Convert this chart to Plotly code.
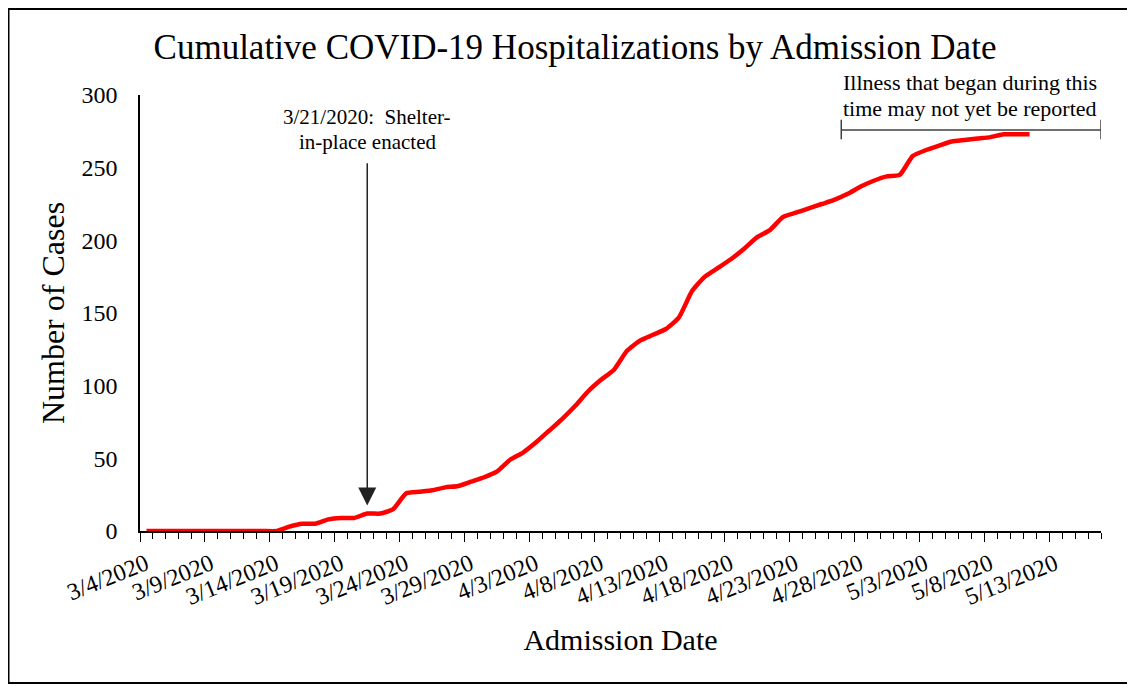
import pandas as pd
import plotly.graph_objects as go

# ---- data ----
start_date = "2020-03-04"
cases = [0, 0, 0, 0, 0, 0, 0, 0, 0, 0,
         0, 3, 5, 5, 8, 9, 9, 12, 12, 15,
         26, 27, 28, 30, 31, 34, 37, 41, 49, 54,
         61, 69, 77, 86, 96, 104, 111, 124, 131, 135,
         139, 147, 165, 175, 181, 187, 194, 202, 207, 216,
         219, 222, 225, 228, 232, 237, 241, 244, 245, 258,
         262, 265, 268, 269, 270, 271, 273, 273, 273]
tick_labels = ["3/4/2020", "3/9/2020", "3/14/2020", "3/19/2020", "3/24/2020",
               "3/29/2020", "4/3/2020", "4/8/2020", "4/13/2020", "4/18/2020",
               "4/23/2020", "4/28/2020", "5/3/2020", "5/8/2020", "5/13/2020"]
y_ticks = [0, 50, 100, 150, 200, 250, 300]
shelter_date = "2020-03-21"
lag_start = "2020-04-26 12:00"
axis_end = "2020-05-16 12:00"
axis_start = "2020-03-03 12:00"

dates = pd.date_range(start_date, periods=len(cases), freq="D")
tick_pos = [pd.Timestamp(axis_start) + pd.Timedelta(days=5 * k) for k in range(len(tick_labels))]

FONT = "Liberation Serif"
OFF = 8  # page body margin
W, H = 1135 - OFF, 685 - OFF
L, R, T, B = 140 - OFF, 34, 95 - OFF, 154
pw, ph = W - L - R, H - T - B


def px_x(page_x):
    return (page_x - OFF - L) / pw


def px_y(page_y):
    return (H - B - (page_y - OFF)) / ph


fig = go.Figure()
fig.add_trace(go.Scatter(
    x=dates, y=cases, mode="lines",
    line=dict(color="#FF0000", width=4.5, shape="spline", smoothing=0.5),
    showlegend=False, hoverinfo="x+y"))

fig.update_layout(
    width=W, height=H, autosize=False,
    margin=dict(l=L, r=R, t=T, b=B),
    paper_bgcolor="white", plot_bgcolor="white",
    font=dict(family=FONT, color="black"),
    title=dict(text="Cumulative COVID-19 Hospitalizations by Admission Date",
               font=dict(family=FONT, size=35, color="black"),
               x=(575 - OFF) / W, xref="container", xanchor="center",
               y=1 - (47 - OFF) / H, yref="container", yanchor="middle"),
    xaxis=dict(
        type="date", range=[axis_start, axis_end],
        tickmode="array", tickvals=tick_pos, ticktext=tick_labels,
        tickangle=-22, ticklabelshift=6, ticklabelstandoff=-1,
        ticks="outside", ticklen=9, tickwidth=1.3, tickcolor="black",
        minor=dict(tick0=axis_start, dtick=86400000, ticks="outside",
                   ticklen=6, tickwidth=1.3, tickcolor="black"),
        showline=True, linecolor="black", linewidth=1.5,
        showgrid=False, zeroline=False,
        tickfont=dict(family=FONT, size=24, color="black"),
        title=dict(text="Admission Date", font=dict(family=FONT, size=30, color="black"),
                   standoff=20),
    ),
    yaxis=dict(
        range=[0, 300], tickmode="array", tickvals=y_ticks,
        ticks="", ticklabelstandoff=16,
        showline=True, linecolor="black", linewidth=1.5,
        showgrid=False, zeroline=False,
        tickfont=dict(family=FONT, size=24, color="black"),
        title=dict(text="Number of Cases", font=dict(family=FONT, size=32, color="black"),
                   standoff=7),
    ),
)

# shelter-in-place arrow
fig.add_annotation(x=shelter_date, y=17.5, ax=shelter_date, ay=254,
                   xref="x", yref="y", axref="x", ayref="y", text="",
                   showarrow=True, arrowhead=2, arrowsize=2.4, arrowwidth=1.5,
                   arrowcolor="#222222")
for txt, py in (("3/21/2020:  Shelter-", 117), ("in-place enacted", 142)):
    fig.add_annotation(x=shelter_date, y=px_y(py), xref="x", yref="paper",
                       text=txt, showarrow=False,
                       font=dict(family=FONT, size=21, color="black"),
                       xanchor="center", yanchor="middle")

# reporting-lag bracket
fig.add_shape(type="line", x0=lag_start, x1=axis_end, y0=276, y1=276,
              xref="x", yref="y", line=dict(color="#404040", width=1.5))
for xv in (lag_start, axis_end):
    fig.add_shape(type="line", x0=xv, x1=xv, y0=269.5, y1=283,
                  xref="x", yref="y", line=dict(color="#404040", width=1.5))
for txt, py in (("Illness that began during this", 83), ("time may not yet be reported", 108)):
    fig.add_annotation(x=px_x(970), y=px_y(py), xref="paper", yref="paper",
                       text=txt, showarrow=False,
                       font=dict(family=FONT, size=22, color="black"),
                       xanchor="center", yanchor="middle")

# outer border
fig.add_shape(type="rect", xref="paper", yref="paper",
              x0=px_x(8.5), x1=px_x(1133),
              y0=px_y(683), y1=px_y(9),
              line=dict(color="black", width=2), fillcolor="rgba(0,0,0,0)")

fig.write_html("out.html")
